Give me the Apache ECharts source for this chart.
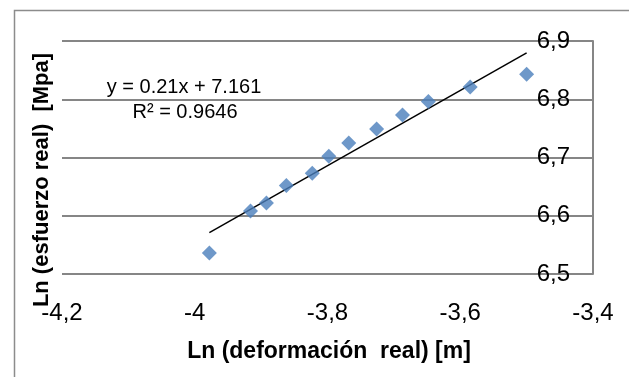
<!DOCTYPE html>
<html>
<head>
<meta charset="utf-8">
<script src="https://cdn.jsdelivr.net/npm/echarts@6/dist/echarts.min.js"></script>
<style>
html,body{margin:0;padding:0;background:#fff;}
#c{width:629px;height:377px;}
</style>
</head>
<body>
<div id="c"></div>
<script>
// Data
const xValues = [-3.978, -3.916, -3.892, -3.862, -3.823, -3.798, -3.768, -3.726, -3.687, -3.648, -3.585, -3.500];
const yValues = [6.536, 6.608, 6.622, 6.652, 6.673, 6.702, 6.725, 6.749, 6.773, 6.796, 6.821, 6.843];
const xAxisRange = [-4.2, -3.4, 0.2];
const yAxisRange = [6.5, 6.9, 0.1];
const equationText = 'y = 0.21x + 7.161';
const r2Text = 'R² = 0.9646';
const xTitle = 'Ln (deformación  real) [m]';
const yTitle = 'Ln (esfuerzo real)  [Mpa]';

// Least-squares trendline computed from the data
const n = xValues.length;
const mx = xValues.reduce((a, b) => a + b, 0) / n;
const my = yValues.reduce((a, b) => a + b, 0) / n;
let sxy = 0, sxx = 0;
for (let i = 0; i < n; i++) { sxy += (xValues[i] - mx) * (yValues[i] - my); sxx += (xValues[i] - mx) ** 2; }
const slope = sxy / sxx, intercept = my - slope * mx;
const xmin = Math.min(...xValues), xmax = Math.max(...xValues);
const trend = [[xmin, slope * xmin + intercept], [xmax, slope * xmax + intercept]];

const fmt = v => String(Math.round(v * 10) / 10).replace('.', ',');
const FONT = 'Liberation Sans';

const chart = echarts.init(document.getElementById('c'));
chart.setOption({
  animation: false,
  backgroundColor: '#fff',
  grid: { left: 62, right: 36, top: 41, bottom: 103 },
  xAxis: {
    type: 'value', min: xAxisRange[0], max: xAxisRange[1], interval: xAxisRange[2],
    axisLine: { show: false }, axisTick: { show: false }, splitLine: { show: false },
    axisLabel: { formatter: fmt, fontFamily: FONT, fontSize: 24, color: '#000', margin: 27 }
  },
  yAxis: {
    type: 'value', position: 'right', min: yAxisRange[0], max: yAxisRange[1], interval: yAxisRange[2],
    axisLine: { show: true, lineStyle: { color: '#868686', width: 2 } },
    axisTick: { show: false },
    splitLine: { show: true, lineStyle: { color: '#868686', width: 2 } },
    axisLabel: { inside: true, formatter: fmt, fontFamily: FONT, fontSize: 24, color: '#000', margin: 23, padding: [6, 0, 0, 0] }
  },
  series: [
    {
      type: 'line', data: trend, showSymbol: false, symbol: 'none',
      lineStyle: { color: '#000', width: 1.5 }, z: 3
    },
    {
      type: 'scatter', data: xValues.map((x, i) => [x, yValues[i]]),
      symbol: 'diamond', symbolSize: 15,
      itemStyle: { color: '#4A7EBB' }, z: 4
    }
  ],
  graphic: [
    { type: 'rect', left: 12, top: 8, shape: { width: 700, height: 500 }, style: { fill: 'none', stroke: '#8c8c8c', lineWidth: 1.5 }, silent: true, z: -1 },
    { type: 'text', x: 184, y: 87, style: { text: equationText, font: '20px "' + FONT + '"', fill: '#000', textAlign: 'center', textVerticalAlign: 'middle' } },
    { type: 'text', x: 185, y: 112, style: { text: r2Text, font: '20px "' + FONT + '"', fill: '#000', textAlign: 'center', textVerticalAlign: 'middle' } },
    { type: 'text', x: 329, y: 352, style: { text: xTitle, font: 'bold 23px "' + FONT + '"', fill: '#000', textAlign: 'center', textVerticalAlign: 'middle' } },
    { type: 'text', x: 42, y: 180, rotation: Math.PI / 2, style: { text: yTitle, font: 'bold 22px "' + FONT + '"', fill: '#000', textAlign: 'center', textVerticalAlign: 'middle' } }
  ]
});
</script>
</body>
</html>
